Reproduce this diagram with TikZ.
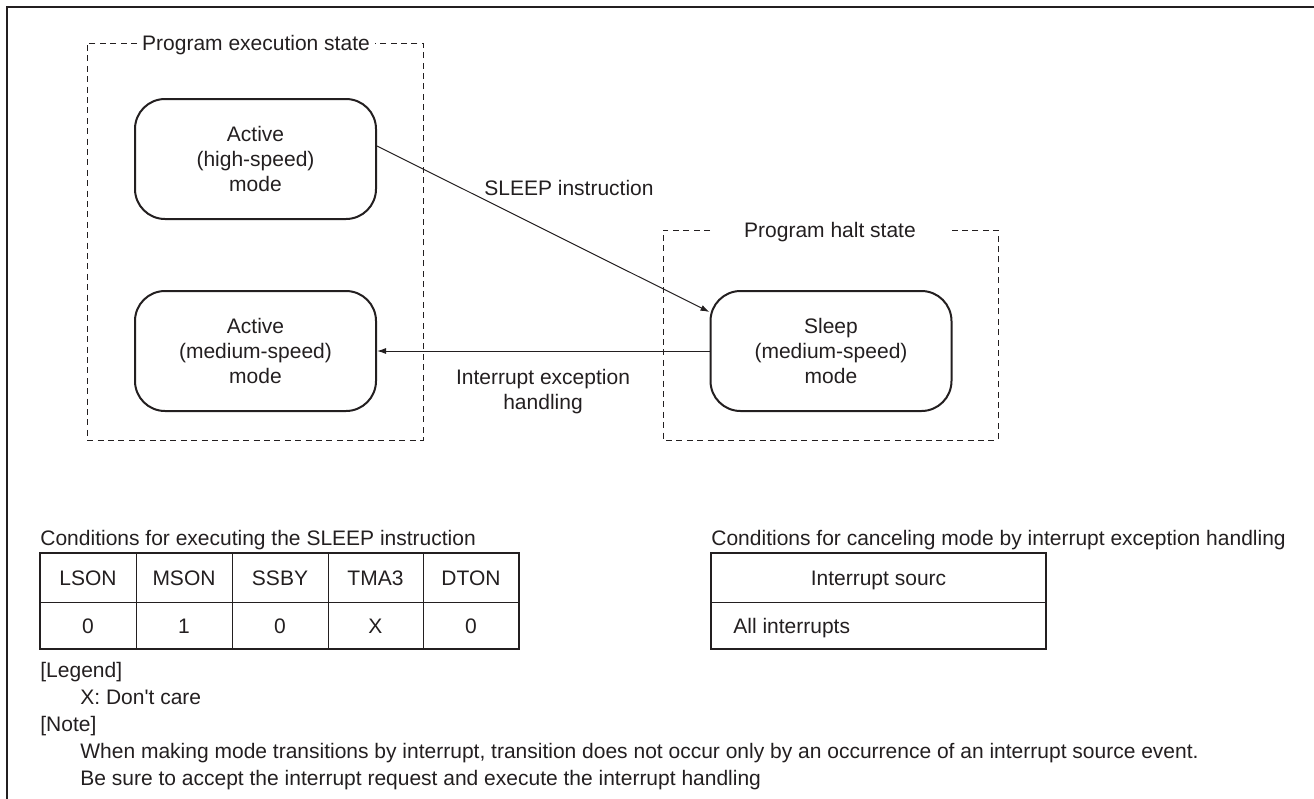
\documentclass[tikz,border=0pt]{standalone}
\usepackage{fontspec}
\setmainfont{Liberation Sans}
\usetikzlibrary{arrows.meta}
\definecolor{ink}{HTML}{231F20}
\begin{document}
\begin{tikzpicture}[x=0.5pt,y=-0.5pt,
every node/.style={text=ink,font=\fontsize{10.5}{12.5}\selectfont},
modebox/.style={draw=ink,line width=1pt,rounded corners=15pt,minimum width=120.5pt,minimum height=60pt,align=center,inner sep=2pt},
lbl/.style={anchor=base,inner sep=0pt},
lbll/.style={lbl,anchor=base west},
zone/.style={draw=ink,line width=0.5pt,dash pattern=on 3pt off 2.2pt},
trans/.style={draw=ink,line width=0.5pt,-{Latex[length=4.5pt,width=3pt]}},
tabline/.style={draw=ink,line width=0.5pt},
tabframe/.style={draw=ink,line width=1pt}
]
\useasboundingbox (0,0) rectangle (1314,799);
% outer frame
\draw[ink,line width=1pt] (1314,7) -- (7,7) -- (7,799);
% state zones
\draw[zone] (137,43) -- (87,43) -- (87,440) -- (423,440) -- (423,43) -- (375,43);
\node[lbl] (exec) at (256,50.5) {Program execution state};
\draw[zone] (710,230) -- (663,230) -- (663,440) -- (998,440) -- (998,230) -- (950,230);
\node[lbl] (halt) at (830,237.5) {Program halt state};
% modes
\node[modebox] (hi) at (255.5,159) {Active\\(high-speed)\\mode};
\node[modebox] (med) at (255.5,351) {Active\\(medium-speed)\\mode};
\node[modebox] (sleep) at (831,351) {Sleep\\(medium-speed)\\mode};
% transitions
\draw[trans] ([yshift=6.5pt]hi.east) -- ([yshift=19.5pt]sleep.west);
\node[lbl] (sleeplbl) at (569,195.5) {SLEEP instruction};
\draw[trans] (sleep.west) -- (med.east);
\node[align=center] (intlbl) at (543,392) {Interrupt exception\\handling};
% SLEEP conditions table
\node[lbll] (cond1) at (40,545) {Conditions for executing the SLEEP instruction};
\draw[tabline] (40,602) -- (519,602);
\draw[tabline] (136,553) -- (136,649);
\draw[tabline] (232,553) -- (232,649);
\draw[tabline] (328,553) -- (328,649);
\draw[tabline] (423,553) -- (423,649);
\draw[tabframe] (40,553) rectangle (519,649);
\node[lbl] (lson) at (88,585) {LSON};
\node[lbl] (mson) at (184,585) {MSON};
\node[lbl] (ssby) at (280,585) {SSBY};
\node[lbl] (tma) at (375.5,585) {TMA3};
\node[lbl] (dton) at (471,585) {DTON};
\node[lbl] (lsonv) at (88,633) {0};
\node[lbl] (msonv) at (184,633) {1};
\node[lbl] (ssbyv) at (280,633) {0};
\node[lbl] (tmav) at (375.5,633) {X};
\node[lbl] (dtonv) at (471,633) {0};
% cancel conditions table
\node[lbll] (cond2) at (711,545) {Conditions for canceling mode by interrupt exception handling};
\draw[tabline] (711,602) -- (1046,602);
\draw[tabframe] (711,553) rectangle (1046,649);
\node[lbl] (src) at (878.5,585) {Interrupt sourc};
\node[lbll] (allint) at (733,633) {All interrupts};
% legend and note
\node[lbll] (legend) at (40,677) {[Legend]};
\node[lbll] (dontcare) at (80,704) {X: Don\textquotesingle t care};
\node[lbll] (note) at (40,731) {[Note]};
\node[lbll] (note1) at (80,758) {When making mode transitions by interrupt, transition does not occur only by an occurrence of an interrupt source event.};
\node[lbll] (note2) at (80,785) {Be sure to accept the interrupt request and execute the interrupt handling};
\end{tikzpicture}
\end{document}
